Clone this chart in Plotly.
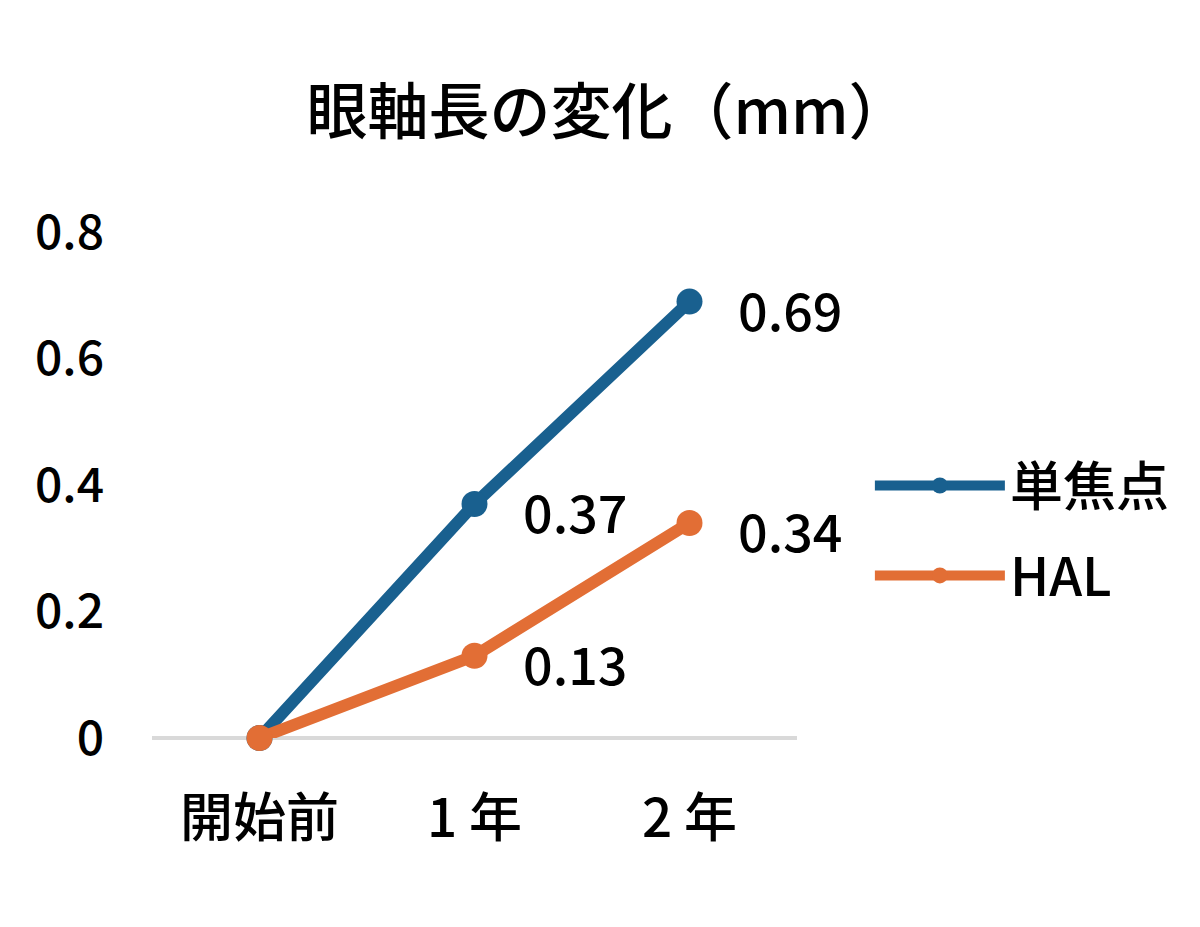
import plotly.graph_objects as go

# データ
kikan = ["開始前", "1 年", "2 年"]
tanshoten = [0, 0.37, 0.69]
hal = [0, 0.13, 0.34]
y_ticks = [0, 0.2, 0.4, 0.6, 0.8]

FONT = "Noto Sans CJK JP"
W = 500  # 少し太め
BLUE = "#19608F"
ORANGE = "#E26E35"

fig = go.Figure()

for name, vals, color in [("単焦点", tanshoten, BLUE), ("HAL", hal, ORANGE)]:
    fig.add_trace(go.Scatter(
        x=kikan, y=vals, name=name, legendgroup=name, mode="lines+markers",
        line=dict(color=color, width=12),
        marker=dict(color=color, size=26),
        cliponaxis=False,
    ))
    # 数値ラベル（開始前の0は表示しない）
    for xv, yv in zip(kikan[1:], vals[1:]):
        fig.add_annotation(
            x=xv, y=yv, text=f"{yv:.2f}", showarrow=False,
            xanchor="left", yanchor="middle", xshift=46, yshift=-7,
            font=dict(family=FONT, size=52, color="black", weight=W),
        )

# ページ本体の余白(8px)ぶんずらしてある
fig.update_layout(
    width=1200, height=927,
    paper_bgcolor="white", plot_bgcolor="white",
    margin=dict(l=144, r=411, t=224, b=197),
    title=dict(
        text="眼軸長の変化（mm）", x=0.5, xanchor="center",
        y=1 - 105 / 927, yanchor="middle", yref="container",
        font=dict(family=FONT, size=61, color="black", weight=W),
    ),
    font=dict(family=FONT, color="black"),
    legend=dict(
        x=1.113, xanchor="left", y=0.41, yanchor="middle",
        font=dict(family=FONT, size=53, color="black", weight=W),
        itemwidth=130, tracegroupgap=18, bgcolor="rgba(0,0,0,0)",
    ),
    showlegend=True,
)

fig.update_xaxes(
    type="category", range=[-0.5, 2.5],
    showgrid=False, showline=False, zeroline=False,
    ticks="", ticklabelstandoff=45,
    tickfont=dict(family=FONT, size=53, color="black", weight=W),
)
fig.update_yaxes(
    range=[0, 0.8], tickvals=y_ticks, ticktext=["0", "0.2", "0.4", "0.6", "0.8"],
    showgrid=False, showline=False, zeroline=True,
    zerolinecolor="#D9D9D9", zerolinewidth=4,
    ticks="", ticklabelstandoff=47,
    tickfont=dict(family=FONT, size=48, color="black", weight=W),
)

fig.write_html("out.html")
